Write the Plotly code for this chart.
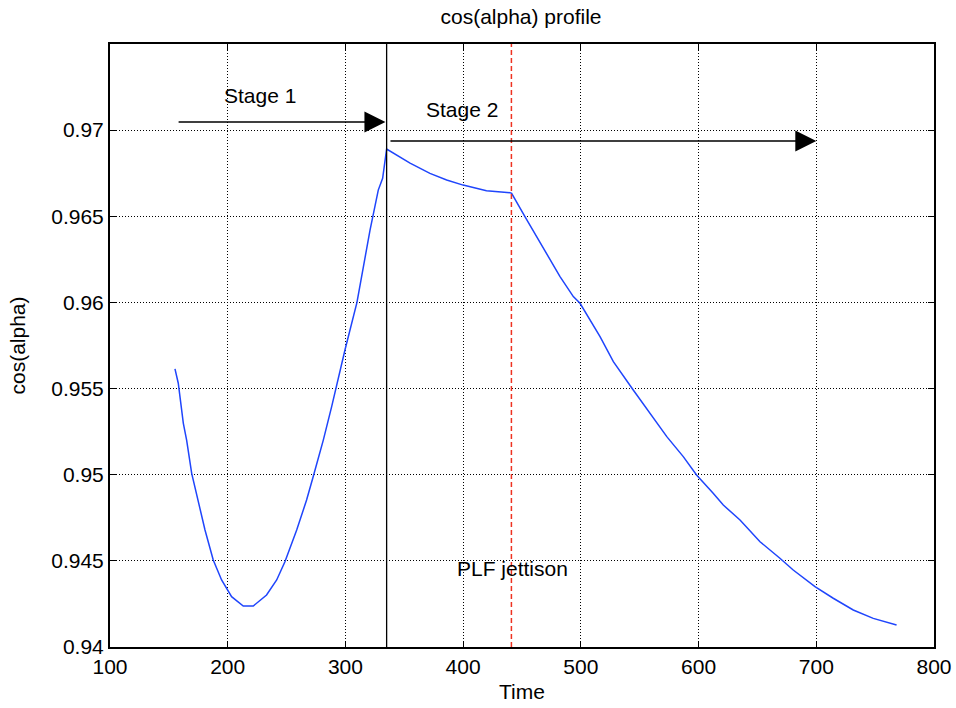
import plotly.graph_objects as go

# ---- data ----
time = [155.2, 158.0, 162.3, 165.1, 169.4, 175.0, 180.7, 187.7, 194.8, 203.3,
        213.2, 221.7, 233.0, 241.6, 248.6, 258.6, 267.0, 272.6, 281.2, 288.3,
        294.0, 299.6, 309.8, 320.9, 327.9, 331.6, 335.0,
        354.9, 371.8, 386.0, 400.0, 419.8, 439.8, 441.2,
        452.5, 462.4, 470.9, 482.3, 493.6, 499.3, 516.3, 527.6, 544.5, 559.0,
        573.0, 587.0, 598.3, 612.4, 621.0, 635.2, 652.2, 669.1, 680.4, 698.9,
        714.4, 731.4, 748.4, 768.2]
cos_alpha = [0.95614, 0.95531, 0.95298, 0.95201, 0.95008, 0.94853, 0.94679, 0.94505, 0.94389, 0.94292,
             0.94238, 0.94238, 0.94302, 0.94389, 0.94495, 0.94679, 0.94853, 0.94988, 0.95201, 0.95395,
             0.95569, 0.95724, 0.96000, 0.96420, 0.96652, 0.96720, 0.96890,
             0.96809, 0.96749, 0.96711, 0.96681, 0.96648, 0.96637, 0.96633,
             0.96498, 0.96382, 0.96285, 0.96150, 0.96034, 0.95995, 0.95801, 0.95656, 0.95492, 0.95356,
             0.95221, 0.95105, 0.94998, 0.94892, 0.94824, 0.94737, 0.94611, 0.94515, 0.94447, 0.94350,
             0.94283, 0.94215, 0.94166, 0.94128]

stage_sep_time = 335.0
plf_time = 441.0

stage1_arrow_x = [157.0, 334.0]
stage1_arrow_y = 0.97047
stage2_arrow_x = [337.0, 700.0]
stage2_arrow_y = 0.96937

labels = ["Stage 1", "Stage 2", "PLF jettison"]
label_x = [227.0, 399.0, 442.0]
label_y = [0.9720, 0.97117, 0.94458]

x_ticks = [100, 200, 300, 400, 500, 600, 700, 800]
y_ticks = [0.94, 0.945, 0.95, 0.955, 0.96, 0.965, 0.97]
y_tick_text = ["0.94", "0.945", "0.95", "0.955", "0.96", "0.965", "0.97"]

FONT = "Liberation Sans, Arial, sans-serif"
FS = 21
W, H = 956, 708

fig = go.Figure()
fig.add_trace(go.Scatter(x=time, y=cos_alpha, mode="lines",
                         line=dict(color="#1f45fc", width=1.5),
                         showlegend=False, hoverinfo="skip"))

fig.add_shape(type="line", x0=stage_sep_time, x1=stage_sep_time, y0=0, y1=1,
              xref="x", yref="paper", line=dict(color="black", width=1.3))
fig.add_shape(type="line", x0=plf_time, x1=plf_time, y0=0, y1=1,
              xref="x", yref="paper", line=dict(color="#ee3322", width=1.5, dash="5px,3px"))

for xs, yv in [(stage1_arrow_x, stage1_arrow_y), (stage2_arrow_x, stage2_arrow_y)]:
    fig.add_annotation(x=xs[1], y=yv, ax=xs[0], ay=yv, xref="x", yref="y",
                       axref="x", ayref="y", text="", showarrow=True,
                       arrowhead=2, arrowsize=2.8, arrowwidth=1.5, arrowcolor="black")

for t, lx, ly in zip(labels, label_x, label_y):
    fig.add_annotation(x=lx, y=ly, text=t, showarrow=False, xref="x", yref="y",
                       font=dict(family=FONT, size=FS, color="black"))

axis_common = dict(showline=True, linecolor="black", linewidth=2, mirror="ticks",
                   ticks="inside", ticklen=6, tickcolor="black", tickwidth=1,
                   showgrid=True, gridcolor="black", gridwidth=1, griddash="1px,2px",
                   zeroline=False, automargin=False, ticklabeloverflow="allow",
                   tickfont=dict(family=FONT, size=FS, color="black"))

fig.update_xaxes(range=[100, 800], tickvals=x_ticks,
                 title=dict(text="Time", font=dict(family=FONT, size=FS, color="black"), standoff=7),
                 **axis_common)
fig.update_yaxes(range=[0.94, 0.975], tickvals=y_ticks, ticktext=y_tick_text,
                 title=dict(text="cos(alpha)", font=dict(family=FONT, size=FS, color="black"), standoff=20),
                 **axis_common)

fig.update_layout(
    width=W, height=H,
    margin=dict(l=110, r=22, t=44, b=61),
    paper_bgcolor="white", plot_bgcolor="white",
    title=dict(text="cos(alpha) profile", x=521 / W, xanchor="center", y=1 - 17 / H, yanchor="middle",
               font=dict(family=FONT, size=FS, color="black")),
    font=dict(family=FONT, color="black"),
)

fig.write_html("out.html",
               config={"displayModeBar": False},
               post_script="document.body.style.margin='0';document.body.style.overflow='hidden';")
